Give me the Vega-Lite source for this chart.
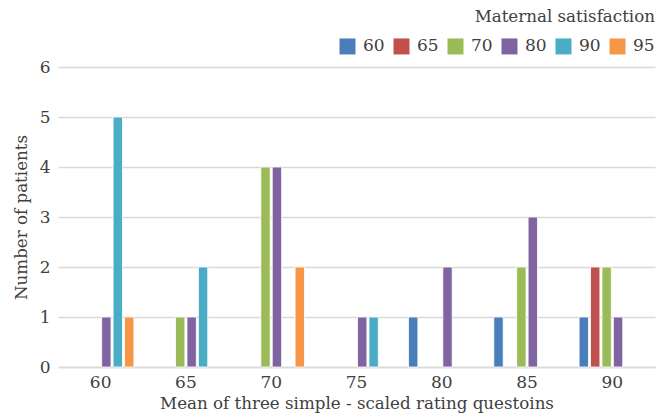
{
  "$schema": "https://vega.github.io/schema/vega-lite/v6.json",
  "width": 597,
  "height": 300,
  "autosize": {"type": "none"},
  "padding": {"left": 58, "top": 67, "right": 17, "bottom": 51},
  "background": "white",
  "config": {
    "font": "DejaVu Serif",
    "view": {"stroke": null}
  },
  "data": {
    "values": [
      {"mean": "60", "satisfaction": "80", "patients": 1},
      {"mean": "60", "satisfaction": "90", "patients": 5},
      {"mean": "60", "satisfaction": "95", "patients": 1},
      {"mean": "65", "satisfaction": "70", "patients": 1},
      {"mean": "65", "satisfaction": "80", "patients": 1},
      {"mean": "65", "satisfaction": "90", "patients": 2},
      {"mean": "70", "satisfaction": "70", "patients": 4},
      {"mean": "70", "satisfaction": "80", "patients": 4},
      {"mean": "70", "satisfaction": "95", "patients": 2},
      {"mean": "75", "satisfaction": "80", "patients": 1},
      {"mean": "75", "satisfaction": "90", "patients": 1},
      {"mean": "80", "satisfaction": "60", "patients": 1},
      {"mean": "80", "satisfaction": "80", "patients": 2},
      {"mean": "85", "satisfaction": "60", "patients": 1},
      {"mean": "85", "satisfaction": "70", "patients": 2},
      {"mean": "85", "satisfaction": "80", "patients": 3},
      {"mean": "90", "satisfaction": "60", "patients": 1},
      {"mean": "90", "satisfaction": "65", "patients": 2},
      {"mean": "90", "satisfaction": "70", "patients": 2},
      {"mean": "90", "satisfaction": "80", "patients": 1}
    ]
  },
  "mark": {"type": "bar", "stroke": "white", "strokeWidth": 0.8},
  "encoding": {
    "x": {
      "field": "mean",
      "type": "nominal",
      "sort": ["60", "65", "70", "75", "80", "85", "90"],
      "scale": {"domain": ["60", "65", "70", "75", "80", "85", "90"], "paddingInner": 0.22, "paddingOuter": 0.11},
      "axis": {
        "title": "Mean of three simple - scaled rating questoins",
        "titleFont": "DejaVu Serif",
        "titleFontSize": 16.7,
        "titleFontWeight": "normal",
        "titleColor": "#404040",
        "titlePadding": 5,
        "labelFont": "DejaVu Serif",
        "labelAngle": 0,
        "labelFontSize": 17,
        "labelColor": "#404040",
        "labelPadding": 7,
        "ticks": false,
        "domainColor": "#d9d9d9",
        "domainWidth": 1.5
      }
    },
    "xOffset": {
      "field": "satisfaction",
      "type": "nominal",
      "scale": {"domain": ["60", "65", "70", "80", "90", "95"], "paddingInner": 0.18}
    },
    "y": {
      "field": "patients",
      "type": "quantitative",
      "scale": {"domain": [0, 6], "nice": false},
      "axis": {
        "title": "Number of patients",
        "titleFont": "DejaVu Serif",
        "titleFontSize": 16.7,
        "titleFontWeight": "normal",
        "titleColor": "#404040",
        "titlePadding": 9,
        "values": [0, 1, 2, 3, 4, 5, 6],
        "labelFont": "DejaVu Serif",
        "labelFontSize": 17,
        "labelColor": "#404040",
        "labelPadding": 8,
        "ticks": false,
        "domain": false,
        "gridColor": "#d9d9d9",
        "gridWidth": 1.3
      }
    },
    "color": {
      "field": "satisfaction",
      "type": "nominal",
      "scale": {
        "domain": ["60", "65", "70", "80", "90", "95"],
        "range": ["#4a7ebb", "#c0504d", "#9bbb59", "#8064a2", "#4bacc6", "#f79646"]
      },
      "legend": {
        "title": "Maternal satisfaction",
        "orient": "none",
        "legendX": 281,
        "legendY": -58,
        "direction": "horizontal",
        "columns": 6,
        "titleAnchor": "end",
        "titleFont": "DejaVu Serif",
        "titleFontSize": 16.7,
        "titleFontWeight": "normal",
        "titleColor": "#404040",
        "titlePadding": 12,
        "titleLimit": 400,
        "labelFont": "DejaVu Serif",
        "labelFontSize": 17,
        "labelColor": "#404040",
        "labelOffset": 7,
        "symbolType": "square",
        "symbolSize": 256,
        "symbolStrokeWidth": 0,
        "columnPadding": 8
      }
    }
  }
}
